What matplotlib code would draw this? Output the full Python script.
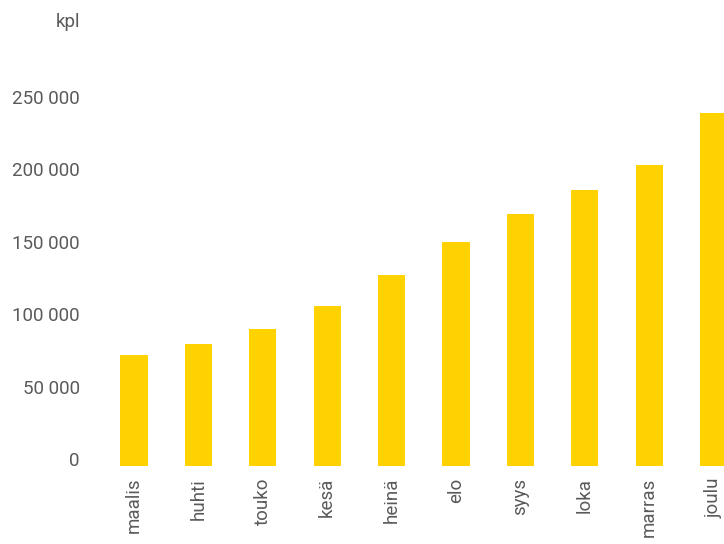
import matplotlib
matplotlib.use("Agg")
import matplotlib.pyplot as plt
from matplotlib.ticker import FuncFormatter

months = ["maalis", "huhti", "touko", "kesä", "heinä", "elo", "syys", "loka", "marras", "joulu"]
values = [76600, 84300, 94600, 110500, 131900, 154700, 174000, 190600, 207900, 243800]
yticks = [0, 50000, 100000, 150000, 200000, 250000]
unit_label = "kpl"

BAR = "#FFD200"
TXT = "#5a5a5a"
plt.rcParams["font.family"] = ["Roboto", "DejaVu Sans"]

W, H = 724, 544
fig = plt.figure(figsize=(W / 100, H / 100), dpi=100)
ax = fig.add_axes([100 / W, 78 / H, 624 / W, 391 / H])

x = list(range(len(months)))
ax.bar(x, values, width=0.42, color=BAR)
ax.set_xlim(-34 / 64.4, (724 - 134) / 64.4)
ax.set_ylim(0, 270000)

ax.set_yticks(yticks)
ax.yaxis.set_major_formatter(FuncFormatter(lambda v, p: f"{int(v):,}".replace(",", " ")))
ax.set_xticks(x)
ax.set_xticklabels(months, rotation=90, va="top", ha="center")
ax.tick_params(axis="both", length=0, labelsize=13.5, labelcolor=TXT)
ax.tick_params(axis="y", pad=14.4)
ax.tick_params(axis="x", pad=8.6)
for t in ax.get_yticklabels():
    t.set_va("baseline")
for s in ax.spines.values():
    s.set_visible(False)

fig.text(80 / W, (H - 27) / H, unit_label, ha="right", va="baseline", fontsize=13.5, color=TXT)

fig.savefig("out.png", dpi=100)
